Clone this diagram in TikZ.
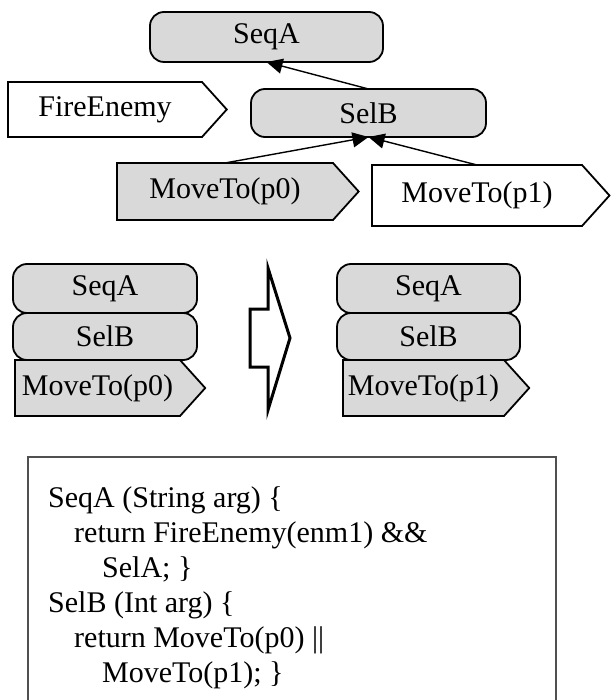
\documentclass[tikz,border=0pt]{standalone}
\usepackage{fontspec}
\setmainfont{Liberation Serif}
\usetikzlibrary{shapes.symbols,positioning,calc,arrows.meta}
\definecolor{nodeGray}{RGB}{217,217,217}
\definecolor{frameGray}{RGB}{80,80,80}

\begin{document}
\begin{tikzpicture}[x=1pt,y=-1pt,font=\fontsize{30}{35}\selectfont,
          composite/.style={
            draw,
            rectangle,
            rounded corners=14pt,
            line width=1.8pt,
            fill=nodeGray,
            inner sep=0pt,
            outer sep=0pt},
          action/.style={
            draw,
            signal,
            signal to=east,
            signal pointer angle=96,
            align=center,
            line width=1.8pt,
            inner sep=0pt,
            outer sep=0pt},
          link/.style={-{Triangle[length=16pt,width=15pt]},line width=1.4pt}]

          \useasboundingbox (0,0) rectangle (610,700);

          % tree
          \node[composite, minimum width=233pt, minimum height=50pt] (seqA) at (266.5,37) {SeqA};
          \node[action, anchor=west, text width=194pt, minimum height=55pt, fill=white] (fireEnemy) at (8,109.5) {FireEnemy};
          \node[composite, minimum width=235pt, minimum height=48pt] (selB) at (368.5,113) {SelB};
          \node[action, anchor=west, text width=216pt, minimum height=57pt, fill=nodeGray] (moveP0) at (117,191.5) {MoveTo(p0)};
          \node[action, anchor=west, text width=210pt, minimum height=61pt, fill=white] (moveP1) at (372,195.5) {MoveTo(p1)};

          \draw[link] (selB.north) -- (seqA.south);
          \draw[link] (moveP0.north) -- (selB.south);
          \draw[link] (moveP1.north) -- (selB.south);

          % stack before
          \node[composite, minimum width=184pt, minimum height=49pt] (seqLeft) at (105,288.5) {SeqA};
          \node[composite, minimum width=184pt, minimum height=47pt, below=0pt of seqLeft] (selLeft) {SelB};
          \node[action, anchor=north west, text width=165pt, minimum height=56pt, fill=nodeGray] (moveLeft) at ($(selLeft.south west)+(2,0)$) {MoveTo(p0)};

          % transition
          \draw[line width=3pt] (250,309) -- (268,309) -- (268,268) -- (290,338) -- (268,410) -- (268,367) -- (250,367) -- cycle;

          % stack after
          \node[composite, minimum width=183pt, minimum height=49pt] (seqRight) at (428.5,288.5) {SeqA};
          \node[composite, minimum width=183pt, minimum height=47pt, below=0pt of seqRight] (selRight) {SelB};
          \node[action, anchor=north west, text width=161pt, minimum height=56pt, fill=nodeGray] (moveRight) at ($(selRight.south west)+(6,0)$) {MoveTo(p1)};

          % code
          \node[anchor=north west, align=left, inner sep=0pt] (codeText) at (48,486) {SeqA (String arg) \{\\
            \hspace*{26pt}return FireEnemy(enm1) \&\&\\
            \hspace*{54pt}SelA; \}\\
            SelB (Int arg) \{\\
            \hspace*{26pt}return MoveTo(p0) ||\\
            \hspace*{54pt}MoveTo(p1); \}};
          \draw[frameGray, line width=1.5pt] (28,700) |- (556,457) -- (556,700);
\end{tikzpicture}
\end{document}
